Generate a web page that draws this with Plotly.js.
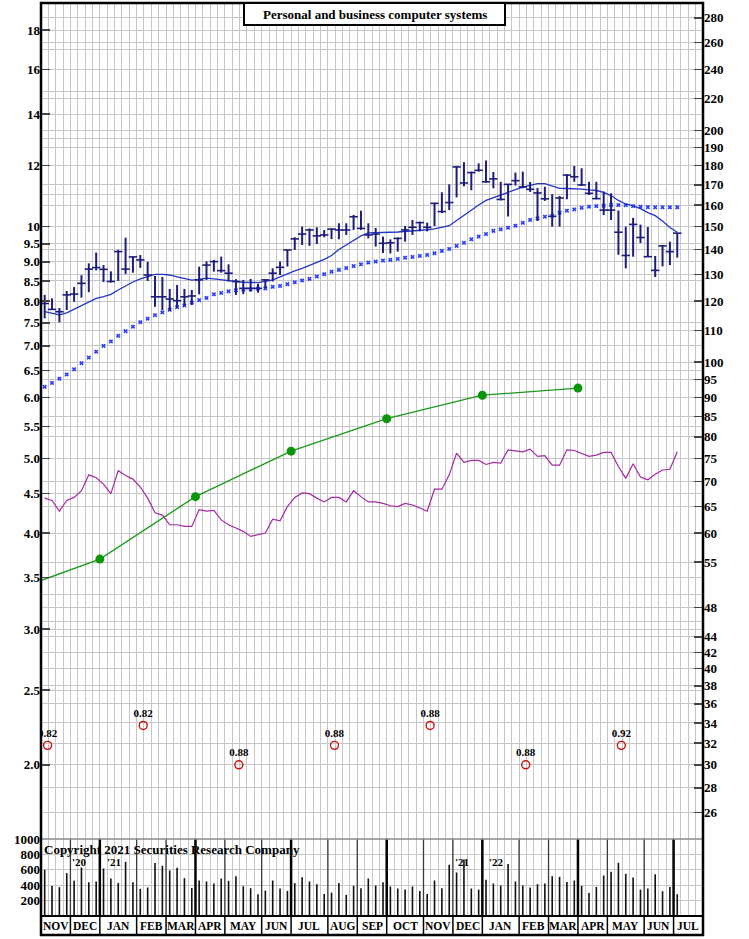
<!DOCTYPE html>
<html><head><meta charset="utf-8">
<script src="https://cdn.plot.ly/plotly-3.0.1.min.js"></script>
<style>html,body{margin:0;padding:0;background:#fff}#chart{width:749px;height:939px}</style>
</head><body><div id="chart"></div>
<script>
// ---------- data ----------
const months = ['NOV','DEC','JAN','FEB','MAR','APR','MAY','JUN','JUL','AUG','SEP','OCT','NOV','DEC','JAN','FEB','MAR','APR','MAY','JUN','JUL'];
const monthWeeks = [4,4,5,4,4,4,5,4,5,4,4,5,4,4,5,4,4,4,5,4,4];
const quarterEndMonths = ['MAR','JUN','SEP','DEC'];
const startYear = 2020;

const priceHigh = [122.3,121.0,117.6,123.7,125.2,129.7,134.4,138.8,133.7,131.2,
  139.9,145.1,137.2,137.8,135.0,129.4,129.0,124.5,126.0,124.5,
  124.1,133.1,135.2,135.8,137.1,134.0,128.2,127.9,128.3,126.4,
  128.2,132.4,135.1,139.9,145.3,150.0,149.2,149.7,148.5,149.2,
  151.5,151.5,155.3,157.3,151.5,149.4,145.6,144.4,145.2,150.3,
  153.0,152.2,151.8,161.1,166.2,170.2,179.6,181.9,176.8,181.2,
  182.8,176.6,171.5,170.4,176.3,176.8,171.4,168.4,169.0,165.3,
  164.4,175.4,179.8,178.6,171.5,171.5,166.6,165.7,157.4,150.0,
  154.0,150.9,149.8,137.4,142.0,143.4,147.1];
const priceLow = [114.0,116.9,112.7,116.9,119.8,121.3,123.3,131.6,127.1,126.9,
  127.5,130.2,130.7,132.6,127.5,118.0,116.9,116.6,117.6,118.3,
  118.7,122.5,127.9,131.1,130.7,127.3,122.3,122.6,123.5,123.1,
  124.7,127.3,129.8,133.1,139.9,142.0,141.6,142.4,145.3,144.5,
  144.4,146.3,148.5,148.5,144.8,141.3,138.6,138.4,139.2,143.4,
  146.3,147.9,147.9,150.3,156.2,157.6,163.7,169.2,167.2,176.8,
  171.0,168.2,162.2,154.6,169.6,168.2,166.4,152.6,162.0,150.0,
  150.0,162.8,171.5,169.4,164.9,162.8,155.3,153.0,137.9,132.4,
  137.1,142.8,137.1,129.0,133.2,133.7,136.7];
const priceClose = [119.2,117.1,116.3,122.3,122.6,126.6,132.1,132.7,132.0,127.3,
  139.2,132.1,137.0,135.8,129.8,121.6,121.6,120.8,120.2,121.6,
  121.9,127.9,133.7,135.1,131.5,130.5,127.3,124.7,124.7,124.7,
  127.9,130.5,132.8,139.9,144.6,146.7,148.5,145.9,146.3,148.9,
  148.5,148.5,154.5,149.2,146.3,146.7,142.7,142.9,144.8,148.5,
  149.7,151.8,149.7,160.8,156.9,161.2,179.3,170.9,176.3,177.5,
  171.5,173.0,162.7,170.2,172.1,168.9,167.7,165.9,163.0,154.7,
  163.4,175.0,174.1,169.9,165.7,163.1,157.6,157.6,147.5,137.6,
  151.0,145.2,137.1,131.6,141.6,139.2,147.1];
const ma10 = [116.3,115.7,115.2,115.9,117.1,118.5,119.7,121.0,121.7,122.5,
  124.1,125.6,127.1,128.3,129.2,130.0,130.0,129.8,129.1,128.4,
  127.8,128.1,128.6,128.3,127.9,127.6,127.3,127.0,126.9,126.9,
  127.3,127.9,129.1,130.4,131.4,132.4,133.6,134.9,136.0,137.6,
  140.1,142.0,143.9,145.9,147.2,147.4,147.5,147.5,147.6,147.8,
  148.1,148.3,148.6,149.0,149.6,150.4,152.8,155.2,157.5,160.0,
  162.2,163.6,165.0,166.4,167.5,168.8,169.7,170.6,170.6,169.3,
  168.2,168.1,168.0,167.8,167.4,167.1,166.2,164.6,162.2,160.5,
  159.6,158.3,156.4,155.0,152.5,149.6,147.5];
const ma40 = [92.9,94.0,95.2,96.4,97.9,99.7,101.4,103.2,105.0,106.4,
  108.2,109.7,111.2,112.7,113.9,115.1,116.1,117.0,117.9,118.5,
  119.5,120.4,121.2,122.5,123.0,123.6,124.0,124.3,124.4,124.6,
  124.7,125.3,125.6,126.3,127.0,127.7,128.3,129.2,130.1,131.1,
  131.8,132.5,133.3,134.0,134.7,135.1,135.5,135.8,136.2,136.7,
  137.0,137.4,137.8,138.5,139.5,140.3,141.6,142.9,144.4,145.6,
  146.7,148.1,148.8,149.5,150.4,151.7,153.0,153.7,154.5,155.0,
  156.4,157.3,157.9,158.7,159.2,159.5,159.7,160.0,160.0,159.9,
  159.5,159.2,159.0,158.9,158.9,158.9,158.9];
const relStrength = [4.44,4.41,4.27,4.41,4.45,4.54,4.76,4.72,4.63,4.50,
  4.82,4.75,4.70,4.59,4.44,4.25,4.22,4.10,4.10,4.08,
  4.08,4.29,4.27,4.28,4.16,4.10,4.06,4.02,3.96,3.98,
  4.00,4.17,4.15,4.33,4.45,4.51,4.50,4.44,4.39,4.45,
  4.45,4.39,4.54,4.46,4.39,4.39,4.37,4.34,4.33,4.37,
  4.35,4.31,4.27,4.56,4.56,4.76,5.08,4.94,4.97,4.97,
  4.91,4.94,4.93,5.13,5.12,5.10,5.14,5.03,5.04,4.90,
  4.90,5.13,5.12,5.07,5.03,5.05,5.09,5.09,4.88,4.71,
  4.92,4.73,4.69,4.77,4.83,4.84,5.10];
const volume = [600,391,374,557,457,630,439,448,617,487,
  430,704,439,352,370,687,652,591,626,491,
  365,461,448,422,487,457,517,387,361,283,
  330,461,357,326,426,504,448,413,287,304,
  430,274,391,361,487,396,439,383,357,343,
  383,326,287,461,361,665,565,735,357,343,
  470,422,396,674,448,396,370,413,422,517,
  509,443,461,391,300,378,526,574,691,548,
  500,343,357,543,322,378,283];
const epsStart = 3.47;                       // value at the left edge
const epsQuarterly = [3.70,4.46,5.11,5.63,6.04,6.17];
const divWeek = [0.4,13.4,26.4,39.4,52.4,65.4,78.4];
const divLevel = [2.12,2.25,2.0,2.12,2.25,2.0,2.12];
const divAmount = ['0.82','0.82','0.88','0.88','0.88','0.88','0.92'];
const leftTicks = [2.0,2.5,3.0,3.5,4.0,4.5,5.0,5.5,6.0,6.5,7.0,7.5,8.0,8.5,9.0,9.5,10,12,14,16,18];
const leftMinor = [11,13,15,17];
const rightTicks = [26,28,30,32,34,36,38,40,42,44,48,55,60,65,70,75,80,85,90,95,100,110,120,130,140,150,160,170,180,190,200,220,240,260,280];
const rightMinor = [46,50];
const volTicks = [200,400,600,800,1000];
const priceRatio = 15;   // right scale / left scale

// ---------- derived ----------
const weeks = priceHigh.map((_, i) => i);
const totalWeeks = monthWeeks.reduce((a, b) => a + b, 0);
const xRange = [-0.5, totalWeeks - 0.5];
const mStart = [], mEnd = [];
let c = -0.5;
monthWeeks.forEach(w => { mStart.push(c); c += w; mEnd.push(c); });
const quarterBounds = [];
months.forEach((m, k) => { if (quarterEndMonths.includes(m) && mEnd[k] < xRange[1]) quarterBounds.push(mEnd[k]); });
const epsX = [xRange[0]].concat(quarterBounds.slice(0, epsQuarterly.length));
const epsY = [epsStart].concat(epsQuarterly);

const volFrac = 77 / 913;
const yRange = [0.2047, 1.2904];
const y2Range = yRange.map(v => v + Math.log10(priceRatio));

const barX = [], barY = [];
weeks.forEach(i => { barX.push(i, i, null); barY.push(priceHigh[i], priceLow[i], null); });

const serif = 'Liberation Serif, Times New Roman, serif';
const bold = (s, col) => ({family: serif, size: s, color: col || '#000', weight: 'bold'});
const gridCol = '#c6c6c6';

const traces = [
  {type:'bar', x: weeks, y: volume, xaxis:'x', yaxis:'y3', width: 0.22, marker:{color:'#111'}},
  {type:'scatter', mode:'lines', x: epsX, y: epsY, yaxis:'y', line:{color:'#1a9a1a', width:1.3}},
  {type:'scatter', mode:'markers', x: epsX.slice(1), y: epsQuarterly, yaxis:'y', marker:{color:'#0a960a', size:9}},
  {type:'scatter', mode:'lines', x: weeks, y: relStrength, yaxis:'y', line:{color:'#a528a5', width:1.2}},
  {type:'scatter', mode:'markers+text', x: divWeek, y: divLevel, yaxis:'y', text: divAmount,
    textposition:'top center', textfont: bold(11),
    marker:{symbol:'circle-open', size:8, color:'#cc1111', line:{width:1.4, color:'#cc1111'}}},
  {type:'scatter', mode:'markers', x: weeks, y: ma40, yaxis:'y2', marker:{symbol:'x', size:4, color:'#2a3cff'}},
  {type:'scatter', mode:'lines', x: weeks, y: ma10, yaxis:'y2', line:{color:'#2434c8', width:1.3}},
  {type:'scatter', mode:'lines', x: barX, y: barY, yaxis:'y2', line:{color:'#1d1d7e', width:2}},
  {type:'scatter', mode:'markers', x: weeks, y: priceClose, yaxis:'y2',
    marker:{symbol:'line-ew', size:6, line:{width:1.6, color:'#1d1d7e'}}}
];

const shapes = [];
const annotations = [];
const stripBottom = -19 / 913;
// month / quarter lines inside the panels
months.forEach((m, k) => {
  const b = mEnd[k];
  if (b >= xRange[1]) return;
  const isQ = quarterBounds.includes(b);
  const ln = isQ ? {color:'#000', width:2.5} : {color:'#3a3a3a', width:1.3};
  shapes.push({type:'line', layer:'between', xref:'x', yref:'y', x0:b, x1:b, y0:yRange[0], y1:yRange[1], line: ln});
  shapes.push({type:'line', layer:'between', xref:'x', yref:'y3', x0:b, x1:b, y0:0, y1:1000, line: ln});
  shapes.push({type:'line', xref:'x', yref:'paper', x0:b, x1:b, y0:stripBottom, y1:0, line:{color:'#000', width:1.5}});
});
shapes.push({type:'line', xref:'paper', yref:'paper', x0:0, x1:1, y0:volFrac, y1:volFrac, line:{color:'#888', width:1.5}});
shapes.push({type:'line', xref:'paper', yref:'paper', x0:0, x1:1, y0:0, y1:0, line:{color:'#000', width:2.2}});
shapes.push({type:'rect', xref:'paper', yref:'paper', x0:0, x1:1, y0:stripBottom, y1:1, line:{color:'#000', width:2.5}});
// title box
shapes.push({type:'rect', xref:'paper', yref:'paper', x0:(244-41)/662, x1:(505-41)/662, y0:(916-25)/913, y1:1,
  fillcolor:'#fff', line:{color:'#000', width:2}});
annotations.push({xref:'paper', yref:'paper', x:(375-41)/662, y:(916-14)/913, text:'Personal and business computer systems',
  showarrow:false, font: bold(13), xanchor:'center', yanchor:'middle'});

// month labels
months.forEach((m, k) => {
  annotations.push({xref:'x', yref:'paper', x:(mStart[k] + mEnd[k]) / 2, y:(stripBottom) / 2, text:m,
    showarrow:false, font: bold(11.5), xanchor:'center', yanchor:'middle'});
});
// year labels at Dec/Jan boundaries
let yr = startYear;
months.forEach((m, k) => {
  if (m === 'DEC' && k < months.length - 1) {
    const b = mEnd[k];
    const yy = (916 - 861.5) / 913;
    annotations.push({xref:'x', yref:'paper', x:b - 2.75, y:yy, yanchor:'middle', xanchor:'center',
      text:"'" + String(yr).slice(2), showarrow:false, font: bold(11)});
    annotations.push({xref:'x', yref:'paper', x:b + 1.9, y:yy, yanchor:'middle', xanchor:'center',
      text:"'" + String(yr + 1).slice(2), showarrow:false, font: bold(11)});
    yr += 1;
  }
});
annotations.push({xref:'paper', yref:'paper', x:0.002, y:(916 - 849.5) / 913, xanchor:'left', yanchor:'middle',
  text:'Copyright 2021 Securities Research Company', showarrow:false, font: bold(13)});

const fmt = v => (v < 10 ? v.toFixed(1) : String(v));
const layout = {
  width: 749, height: 939,
  margin: {l:41, r:46, t:3, b:23, pad:0},
  paper_bgcolor:'#fff', plot_bgcolor:'#fff',
  showlegend:false, hovermode:false,
  xaxis: {range: xRange, anchor:'y3', tickmode:'linear', tick0:-0.5, dtick:1, showgrid:true, gridcolor:gridCol, gridwidth:1,
    showticklabels:false, ticks:'', zeroline:false, showline:false},
  yaxis: {type:'log', range: yRange, domain:[volFrac, 1], anchor:'x', tickmode:'array', tickvals: leftTicks,
    ticktext: leftTicks.map(fmt), ticks:'inside', ticklen:9, tickwidth:1.5, tickcolor:'#444',
    showgrid:true, gridcolor:gridCol, gridwidth:1, zeroline:false, showline:false, tickfont: bold(13),
    minor:{tickmode:'array', tickvals: leftMinor, showgrid:true, gridcolor:gridCol, gridwidth:1, ticks:''}},
  yaxis2: {type:'log', range: y2Range, overlaying:'y', side:'right', anchor:'x', tickmode:'array', tickvals: rightTicks,
    ticktext: rightTicks.map(String), ticks:'inside', ticklen:9, tickwidth:1.5, tickcolor:'#444',
    showgrid:true, gridcolor:gridCol, gridwidth:1, zeroline:false, showline:false, tickfont: bold(13),
    minor:{tickmode:'array', tickvals: rightMinor, showgrid:true, gridcolor:gridCol, gridwidth:1, ticks:''}},
  yaxis3: {range:[0, 1000], domain:[0, volFrac], anchor:'x', tickmode:'array', tickvals: volTicks,
    ticktext: volTicks.map(String), ticks:'', showgrid:true, gridcolor:gridCol, gridwidth:1, zeroline:false,
    showline:false, tickfont: bold(13)},
  yaxis4: {range:[0, 1000], overlaying:'y3', side:'right', anchor:'x', tickmode:'array', tickvals: volTicks,
    ticktext: volTicks.map(v => v === 1000 ? '1000M' : String(v)), ticks:'', showgrid:false, zeroline:false,
    showline:false, tickfont: bold(13)},
  shapes: shapes,
  annotations: annotations
};
Plotly.newPlot('chart', traces, layout, {staticPlot:true, displayModeBar:false});
</script>
</body></html>
